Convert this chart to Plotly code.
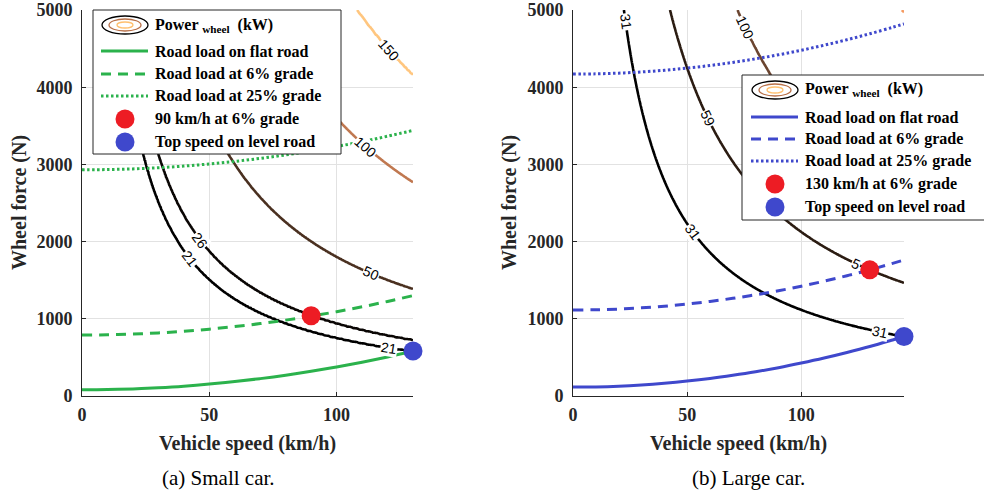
import numpy as np
import plotly.graph_objects as go

# ---------------- data ----------------
# Small car (a)
a_speed = [0, 10, 20, 30, 40, 50, 60, 70, 80, 90, 100, 110, 120, 130]
a_flat = [80, 83, 92, 107, 127, 154, 187, 225, 269, 320, 376, 438, 506, 580]
a_grade6 = [790, 793, 802, 817, 838, 866, 899, 938, 983, 1035, 1092, 1155, 1225, 1300]
a_grade25 = [2930, 2933, 2942, 2957, 2978, 3006, 3039, 3078, 3123, 3175, 3232, 3295, 3365, 3440]
a_levels = [21, 26, 50, 100, 150]          # kW power contours
a_level_colors = ["#000000", "#0a0604", "#4a3020", "#c07850", "#ffc67f"]
a_red = (90, 1040)
a_blue = (130, 582)
a_red_label = "90 km/h at 6% grade"

# Large car (b)
b_speed = [0, 10, 20, 30, 40, 50, 60, 70, 80, 90, 100, 110, 120, 130, 140, 145]
b_flat = [115, 118, 127, 143, 165, 193, 227, 268, 314, 367, 427, 492, 564, 641, 726, 770]
b_grade6 = [1114, 1117, 1126, 1142, 1163, 1191, 1225, 1265, 1311, 1363, 1422, 1487, 1558, 1634, 1718, 1761]
b_grade25 = [4170, 4173, 4182, 4198, 4219, 4247, 4281, 4321, 4368, 4420, 4479, 4544, 4615, 4692, 4776, 4820]
b_levels = [31, 59, 100, 200]
b_level_colors = ["#000000", "#2b1c12", "#6b4530", "#f59a61"]
b_red = (130, 1634)
b_blue = (145, 770)
b_red_label = "130 km/h at 6% grade"

y_ticks = [0, 1000, 2000, 3000, 4000, 5000]

GREEN = "#2bb24c"
BLUE = "#3f48cc"
RED = "#ed1c24"
MBLUE = "#3f48cc"

W, H = 984, 494
PLOT_TOP, PLOT_BOT = 10, 396
A_X0, A_X1 = 82, 413
B_X0, B_X1 = 573, 904


def px(x):
    return x / W


def py(y):
    return (PLOT_BOT - y) / (PLOT_BOT - PLOT_TOP)


fig = go.Figure()


def contour_trace(vmax, levels, colors, xa, ya):
    v = np.linspace(0.5, vmax, 320)
    F = np.linspace(0, 5000, 251)
    V, FF = np.meshgrid(v, F)
    P = FF * V / 3600.0
    knots = [0] + list(levels) + [levels[-1] * 4]
    Z = np.round(np.interp(P, knots, np.arange(len(knots))), 4)
    n = len(levels)
    cs = [[i / (n - 1), c] for i, c in enumerate(colors)]
    return go.Contour(x=v, y=F, z=Z, xaxis=xa, yaxis=ya,
                      contours=dict(start=1, end=n + 0.5, size=1, coloring="lines", showlabels=False),
                      colorscale=cs, zauto=False, zmin=1, zmax=n,
                      line=dict(width=2.6, smoothing=1), showscale=False,
                      hoverinfo="skip", showlegend=False)


fig.add_trace(contour_trace(130, a_levels, a_level_colors, "x", "y"))
fig.add_trace(contour_trace(145, b_levels, b_level_colors, "x2", "y2"))

for spd, flat, g6, g25, col, xa, ya in [
    (a_speed, a_flat, a_grade6, a_grade25, GREEN, "x", "y"),
    (b_speed, b_flat, b_grade6, b_grade25, BLUE, "x2", "y2"),
]:
    fig.add_trace(go.Scatter(x=spd, y=flat, mode="lines", line=dict(color=col, width=3, shape="spline"),
                             xaxis=xa, yaxis=ya, showlegend=False, hoverinfo="skip"))
    fig.add_trace(go.Scatter(x=spd, y=g6, mode="lines", line=dict(color=col, width=3, dash="10px,7px", shape="spline"),
                             xaxis=xa, yaxis=ya, showlegend=False, hoverinfo="skip"))
    fig.add_trace(go.Scatter(x=spd, y=g25, mode="lines", line=dict(color=col, width=3, dash="2.5px,2.5px", shape="spline"),
                             xaxis=xa, yaxis=ya, showlegend=False, hoverinfo="skip"))

for (rx, ry), (bx, by), xa, ya in [(a_red, a_blue, "x", "y"), (b_red, b_blue, "x2", "y2")]:
    fig.add_trace(go.Scatter(x=[rx], y=[ry], mode="markers", marker=dict(color=RED, size=19),
                             xaxis=xa, yaxis=ya, cliponaxis=False, showlegend=False, hoverinfo="skip"))
    fig.add_trace(go.Scatter(x=[bx], y=[by], mode="markers", marker=dict(color=MBLUE, size=19),
                             xaxis=xa, yaxis=ya, cliponaxis=False, showlegend=False, hoverinfo="skip"))

annotations = []
shapes = []

# contour labels (placed on the curves)
kx_a = (A_X1 - A_X0) / 130.0
kx_b = (B_X1 - B_X0) / 145.0
ky = (PLOT_BOT - PLOT_TOP) / 5000.0


def clabel(v, level, text, kx, xa, ya):
    F = level * 3600.0 / v
    slope = level * 3600.0 / v ** 2 * ky / kx
    ang = float(np.degrees(np.arctan(slope)))
    annotations.append(dict(x=v, y=F, xref=xa, yref=ya, text=text, showarrow=False,
                            xanchor="center", yanchor="middle",
                            textangle=ang, bgcolor="white", borderpad=0,
                            font=dict(family="Liberation Sans", size=14, color="black")))


for v, lv in [(120.5, 150), (111.4, 100), (113.4, 50), (46.5, 26), (42.5, 21), (120.5, 21)]:
    clabel(v, lv, str(lv), kx_a, "x", "y")
for v, lv, t in [(23.0, 31, "31"), (59.0, 59, "59"), (75.5, 100, "100"), (52.5, 31, "31"),
                 (134.6, 31, "31"), (124.0, 59, "5")]:
    clabel(v, lv, t, kx_b, "x2", "y2")


# legends
def legend(box, rows, line_x, text_x, circ_x, col, red_label):
    x0, y0, x1, y1 = box
    shapes.append(dict(type="rect", xref="paper", yref="paper", x0=px(x0), x1=px(x1), y0=py(y0), y1=py(y1),
                       line=dict(color="#262626", width=1), fillcolor="white", layer="above"))
    r = rows
    for w, h, c in [(46, 18, "black"), (32, 12, "#b87048"), (16, 6, "#ffc070")]:
        shapes.append(dict(type="circle", xref="paper", yref="paper",
                           x0=px(circ_x - w / 2), x1=px(circ_x + w / 2),
                           y0=py(r[0] + h / 2), y1=py(r[0] - h / 2),
                           line=dict(color=c, width=1.3), layer="above"))
    for yy, dash in [(r[1], "solid"), (r[2], "10px,7px"), (r[3], "2.5px,2.5px")]:
        shapes.append(dict(type="line", xref="paper", yref="paper", x0=px(line_x[0]), x1=px(line_x[1]),
                           y0=py(yy), y1=py(yy), line=dict(color=col, width=3, dash=dash), layer="above"))
    for yy, c in [(r[4], RED), (r[5], MBLUE)]:
        shapes.append(dict(type="circle", xref="paper", yref="paper", x0=px(circ_x - 9.5), x1=px(circ_x + 9.5),
                           y0=py(yy + 9.5), y1=py(yy - 9.5), line=dict(width=0), fillcolor=c, layer="above"))
    texts = ["Power <sub>wheel</sub>  (kW)", "Road load on flat road", "Road load at 6% grade",
             "Road load at 25% grade", red_label, "Top speed on level road"]
    for yy, t in zip(r, texts):
        annotations.append(dict(x=px(text_x), y=py(yy), xref="paper", yref="paper", text=t, showarrow=False,
                                xanchor="left", yanchor="middle",
                                font=dict(family="Liberation Serif", size=16, color="black", weight="bold")))


legend((93, 10, 341, 154), [25, 51, 74, 96, 119, 142], (101, 148), 153, 125, GREEN, a_red_label)
legend((742, 75, 990, 220), [90, 117, 139, 161, 184, 207], (751, 798), 803, 775, BLUE, b_red_label)

# axis titles and captions
TF = dict(family="Liberation Serif", size=20, color="#262626", weight="bold")
for cx in [19, 509]:
    annotations.append(dict(x=px(cx), y=py(203), xref="paper", yref="paper", text="Wheel force (N)",
                            xanchor="center", yanchor="middle",
                            textangle=-90, showarrow=False, font=TF))
for cx in [(A_X0 + A_X1) / 2, (B_X0 + B_X1) / 2]:
    annotations.append(dict(x=px(cx), y=py(443), xref="paper", yref="paper", text="Vehicle speed (km/h)",
                            xanchor="center", yanchor="middle", showarrow=False, font=TF))
CF = dict(family="Liberation Serif", size=21, color="black")
annotations.append(dict(x=px(218), y=py(478), xref="paper", yref="paper", text="(a) Small car.",
                        xanchor="center", yanchor="middle", showarrow=False, font=CF))
annotations.append(dict(x=px(748), y=py(478), xref="paper", yref="paper", text="(b) Large car.",
                        xanchor="center", yanchor="middle", showarrow=False, font=CF))

tickfont = dict(family="Liberation Serif", size=18, color="#262626", weight="bold")
axis_common = dict(showgrid=True, gridcolor="#e2e2e2", gridwidth=1, zeroline=False,
                   showline=True, linecolor="#262626", linewidth=1, ticks="inside", ticklen=4,
                   tickcolor="#262626", tickfont=tickfont, mirror=False, fixedrange=True,
                   automargin=False)

fig.update_layout(
    width=W, height=H, margin=dict(l=0, r=0, t=PLOT_TOP, b=H - PLOT_BOT, pad=0, autoexpand=False),
    paper_bgcolor="white", plot_bgcolor="white", showlegend=False,
    xaxis=dict(domain=[px(A_X0), px(A_X1)], range=[0, 130], tickvals=[0, 50, 100], anchor="y",
               ticklabelstandoff=2, **axis_common),
    yaxis=dict(domain=[0, 1], range=[0, 5000], tickvals=y_ticks, anchor="x", ticklabelstandoff=5, **axis_common),
    xaxis2=dict(domain=[px(B_X0), px(B_X1)], range=[0, 145], tickvals=[0, 50, 100], anchor="y2",
                ticklabelstandoff=2, **axis_common),
    yaxis2=dict(domain=[0, 1], range=[0, 5000], tickvals=y_ticks, anchor="x2", ticklabelstandoff=5, **axis_common),
    annotations=annotations, shapes=shapes,
)

fig.write_html("out.html", config={"displayModeBar": False},
               post_script="document.body.style.margin='0';document.body.style.overflow='hidden';")
